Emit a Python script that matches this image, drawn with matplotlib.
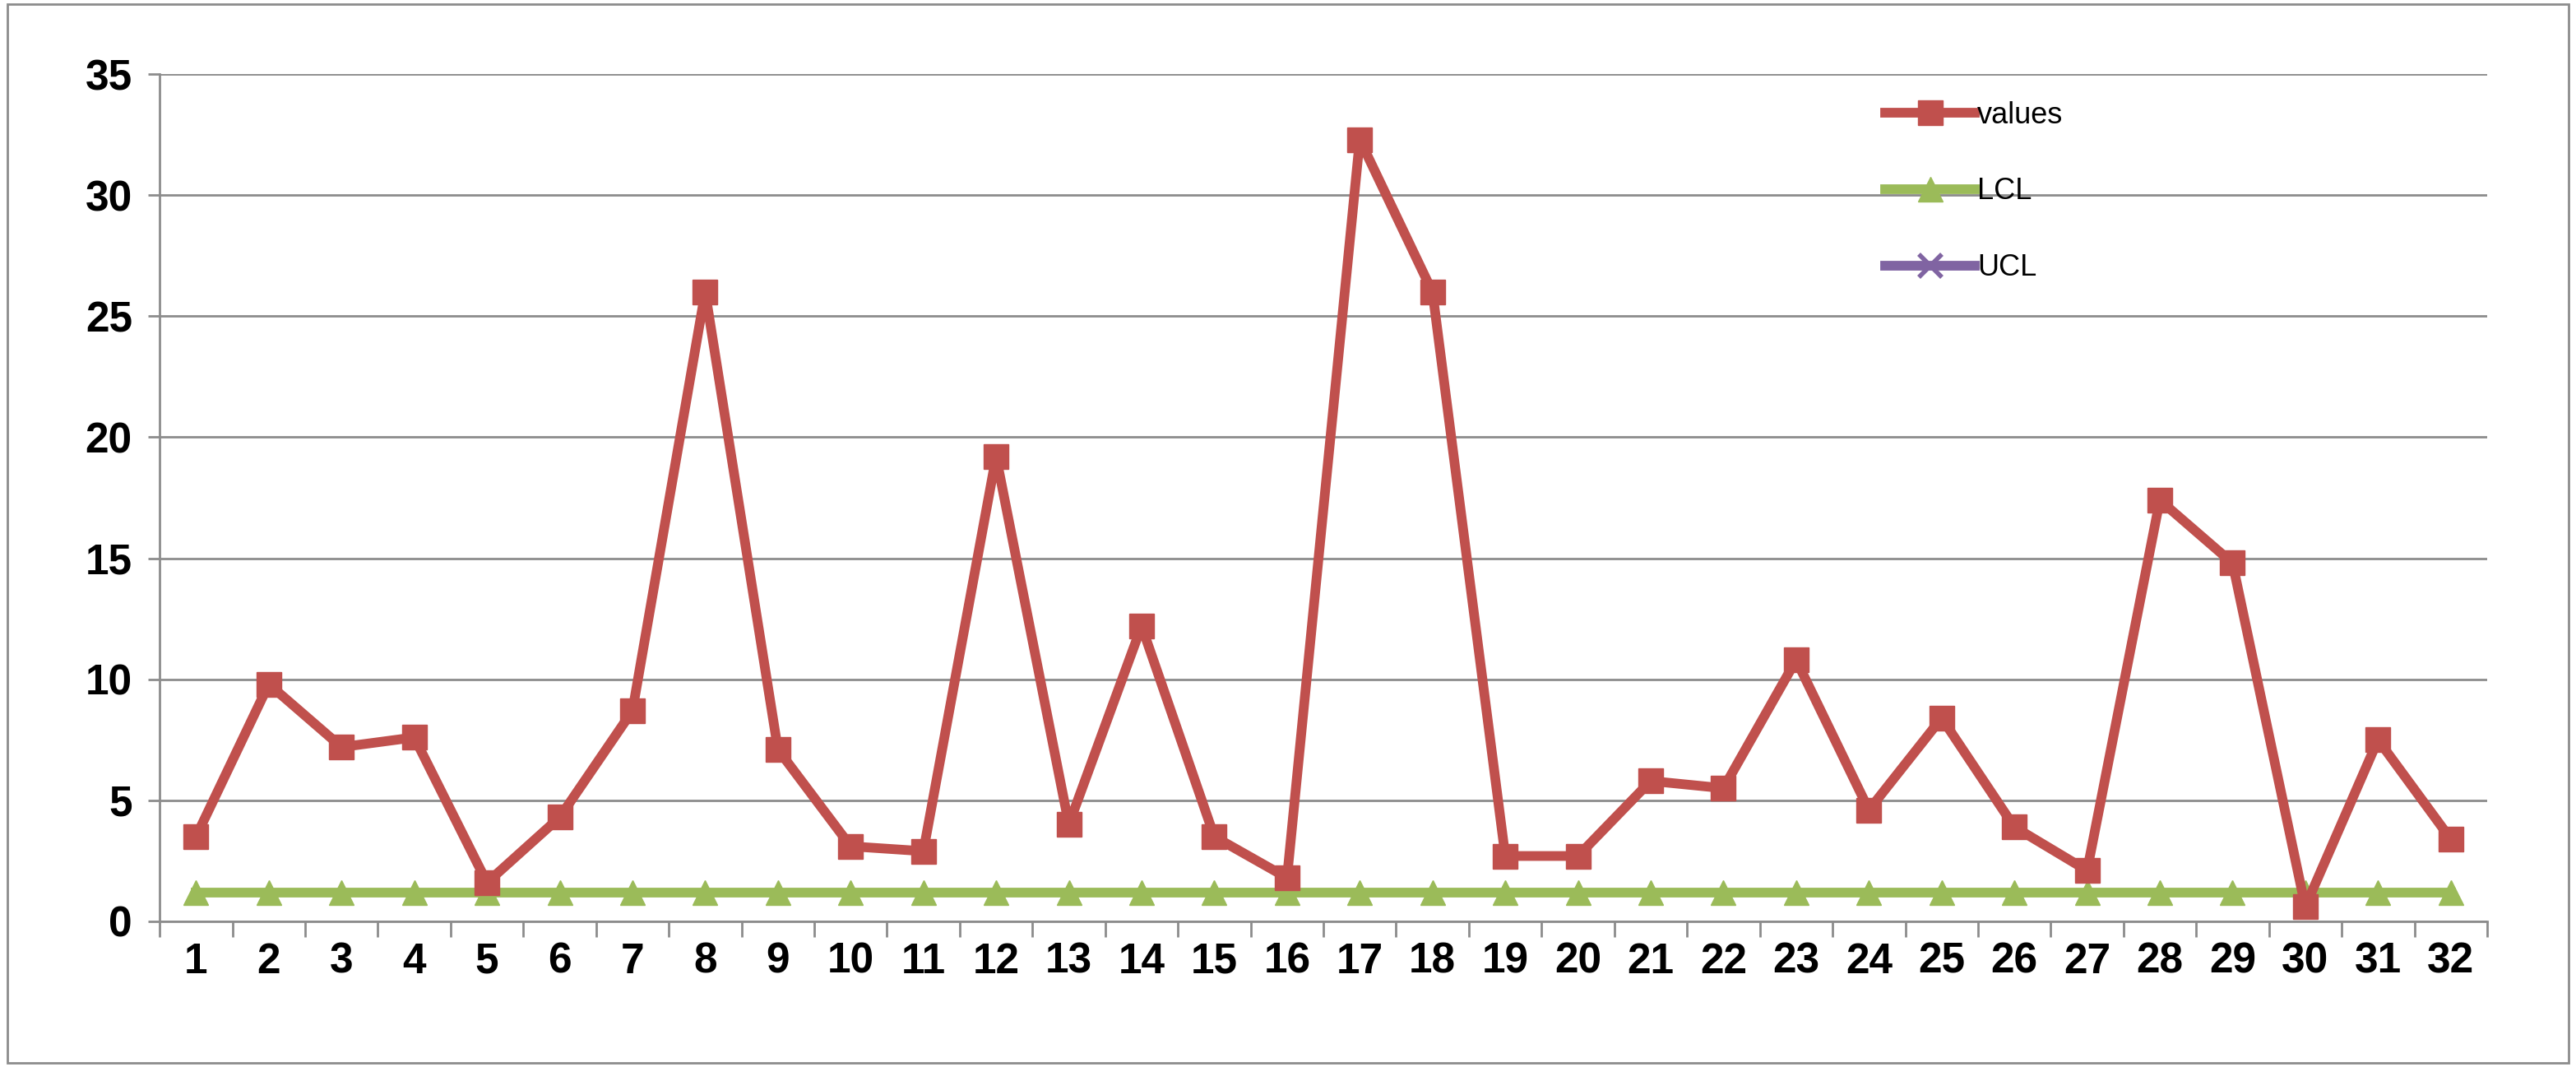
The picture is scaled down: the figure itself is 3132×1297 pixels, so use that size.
import matplotlib
matplotlib.use("Agg")
import matplotlib.pyplot as plt
import numpy as np

plt.rcParams['font.family'] = ['Liberation Sans', 'DejaVu Sans']

categories = list(range(1, 33))
values = [3.5, 9.8, 7.2, 7.6, 1.6, 4.3, 8.7, 26.0, 7.1, 3.1, 2.9, 19.2, 4.0, 12.2, 3.5, 1.8,
          32.3, 26.0, 2.7, 2.7, 5.8, 5.5, 10.8, 4.6, 8.4, 3.9, 2.1, 17.4, 14.8, 0.6, 7.5, 3.4]
lcl = [1.2] * 32
ucl = [38.0] * 32
yticks = [0, 5, 10, 15, 20, 25, 30, 35]

fig = plt.figure(figsize=(31.32, 12.97), dpi=100)
fig.patches.append(plt.Rectangle((0.003, 0.004), 0.994, 0.992, transform=fig.transFigure,
                                 fill=False, edgecolor="#8c8c8c", linewidth=2))
ax = fig.add_axes([0.062, 0.1365, 0.9035, 0.794])
x = np.array(categories)
ax.plot(x, values, color="#c0504d", lw=8.5, marker="s", ms=22, label="values", zorder=3)
ax.plot(x, lcl, color="#9bbb59", lw=8.5, marker="^", ms=22, label="LCL", zorder=2)
ax.plot(x, ucl, color="#8064a2", lw=8.5, marker="x", ms=20, mew=4, label="UCL", zorder=2)
ax.set_xlim(0.5, 32.5)
ax.set_ylim(0, 35)
ax.set_yticks(yticks)
ax.set_xticks(x)
ax.set_xticks(np.arange(0.5, 33, 1), minor=True)
ax.tick_params(axis="x", which="major", length=0, pad=18, labelsize=37)
ax.tick_params(axis="x", which="minor", length=14, width=2, color="#8c8c8c")
ax.tick_params(axis="y", length=10, width=2, color="#8c8c8c", labelsize=37, pad=14)
for lab in ax.get_xticklabels() + ax.get_yticklabels():
    lab.set_fontweight("bold")
ax.grid(axis="y", color="#8c8c8c", lw=2)
ax.set_axisbelow(True)
for s in ["top", "right"]:
    ax.spines[s].set_visible(False)
for s in ["left", "bottom"]:
    ax.spines[s].set_color("#8c8c8c")
    ax.spines[s].set_linewidth(2)
leg = ax.legend(loc="upper left", bbox_to_anchor=(0.73, 1.0), frameon=False,
                fontsize=26, handlelength=3, labelspacing=1.6, handletextpad=0.1)
fig.savefig("out.png", dpi=100)
